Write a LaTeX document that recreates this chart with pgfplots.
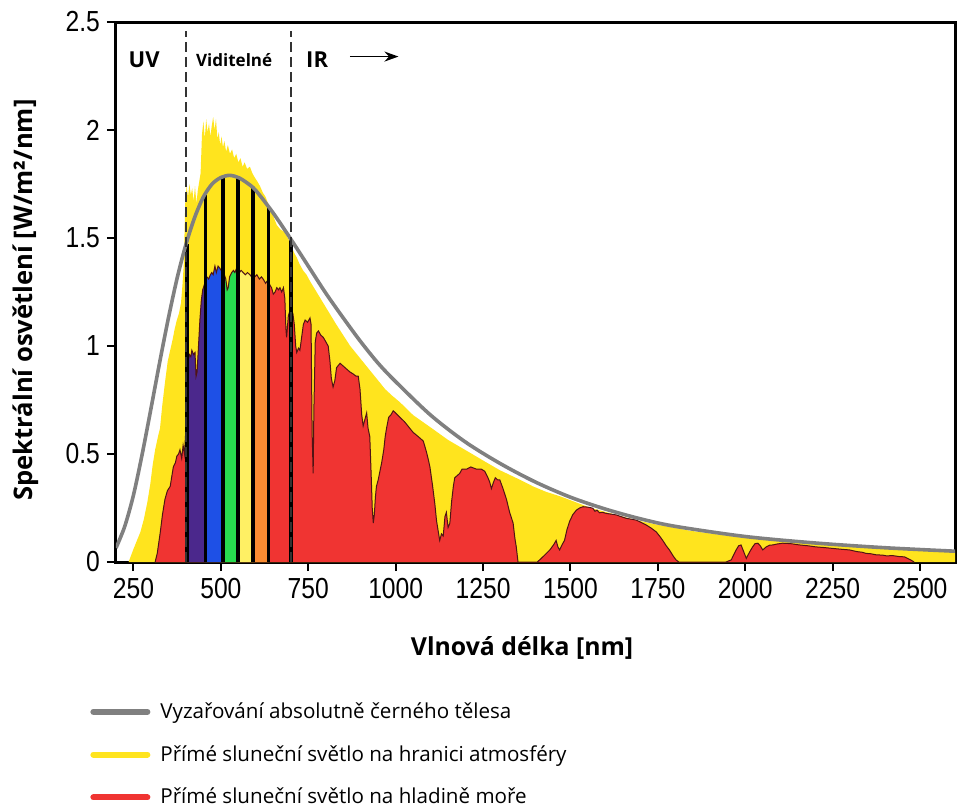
\documentclass[border=0pt]{standalone}
\usepackage{fontspec}
\setmainfont{Liberation Sans}
\newfontfamily\ticknarrow{Liberation Sans}[FakeStretch=0.85]
\newfontfamily\osans{Open Sans}
\usepackage{pgfplots}
\pgfplotsset{compat=1.18}
\usepackage{pgfplotstable}
\usetikzlibrary{arrows.meta}

\definecolor{myyellow}{RGB}{255,228,30}
\definecolor{myred}{RGB}{240,52,50}
\definecolor{redline}{RGB}{80,20,20}
\definecolor{mygray}{RGB}{128,128,128}
\definecolor{myviolet}{RGB}{75,40,140}
\definecolor{myblue}{RGB}{30,80,230}
\definecolor{mygreen}{RGB}{40,220,80}
\definecolor{lightyel}{RGB}{255,240,100}
\definecolor{myorange}{RGB}{250,140,50}

% black body curve (5250 C)
\pgfplotstableread{
nm val
200 0.065
225 0.165
250 0.31
275 0.50
300 0.71
325 0.925
350 1.13
375 1.315
400 1.47
425 1.595
450 1.69
475 1.75
500 1.78
525 1.79
550 1.78
575 1.755
600 1.72
650 1.615
700 1.495
750 1.37
800 1.245
850 1.13
900 1.02
950 0.92
1000 0.835
1100 0.68
1200 0.555
1300 0.455
1400 0.37
1500 0.30
1600 0.245
1700 0.20
1800 0.165
2000 0.118
2200 0.088
2400 0.066
2600 0.05
}\bbdata

% top of atmosphere
\pgfplotstableread{
nm val
236 0
250 0.06
260 0.10
270 0.14
280 0.20
290 0.28
298 0.36
305 0.45
312 0.52
320 0.58
326 0.62
332 0.72
340 0.83
348 0.93
355 0.98
362 1.03
368 1.08
374 1.12
380 1.15
386 1.20
390 1.28
394 1.38
398 1.66
402 1.74
406 1.69
410 1.75
414 1.70
418 1.73
422 1.67
426 1.74
430 1.66
434 1.72
438 1.76
442 1.80
446 1.98
450 2.04
454 1.96
458 2.05
462 1.99
466 2.03
470 1.97
474 2.02
478 2.06
482 2.00
486 2.05
490 1.96
494 1.99
498 1.93
502 1.97
506 1.92
510 1.95
515 1.90
520 1.93
526 1.89
532 1.91
538 1.87
544 1.89
550 1.85
556 1.87
562 1.83
568 1.85
575 1.82
583 1.83
590 1.80
597 1.78
605 1.76
612 1.74
620 1.71
628 1.69
635 1.66
641 1.63
650 1.60
660 1.56
670 1.54
680 1.53
688 1.51
695 1.49
702 1.46
710 1.43
717 1.41
725 1.38
735 1.35
745 1.33
755 1.30
770 1.26
785 1.22
800 1.18
815 1.14
830 1.10
850 1.05
870 1.00
885 0.97
900 0.94
920 0.90
945 0.85
970 0.80
990 0.77
1012 0.74
1050 0.68
1107 0.615
1150 0.565
1203 0.515
1250 0.47
1298 0.425
1350 0.385
1393 0.35
1430 0.325
1469 0.305
1510 0.28
1555 0.252
1600 0.232
1650 0.21
1698 0.19
1750 0.172
1800 0.158
1841 0.145
1900 0.132
1984 0.114
2050 0.103
2100 0.096
2200 0.085
2300 0.075
2400 0.065
2500 0.057
2600 0.049
}\topdata

% sea level
\pgfplotstableread{
nm val
312 0
318 0.04
326 0.13
333 0.22
340 0.29
347 0.33
355 0.35
360 0.40
364 0.44
370 0.46
374 0.49
379 0.50
383 0.52
388 0.48
392 0.54
396 0.50
400 0.62
402 0.88
406 0.93
410 0.96
414 0.95
417 0.98
422 0.96
426 0.97
429 0.86
432 0.88
436 1.00
440 1.12
444 1.21
448 1.26
452 1.28
456 1.30
460 1.32
465 1.31
470 1.33
474 1.34
478 1.33
483 1.37
487 1.34
492 1.37
497 1.36
501 1.35
505 1.34
510 1.33
514 1.31
518 1.26
521 1.27
525 1.32
531 1.34
536 1.35
540 1.34
545 1.36
548 1.36
553 1.34
558 1.35
564 1.34
570 1.33
576 1.34
583 1.33
588 1.32
592 1.33
597 1.32
603 1.33
610 1.31
616 1.32
621 1.31
628 1.29
632 1.30
636 1.30
641 1.28
645 1.27
650 1.24
655 1.25
660 1.27
665 1.26
669 1.27
674 1.25
679 1.27
683 1.22
686 1.08
688 1.04
691 1.10
693 1.14
697 1.16
700 1.17
702 1.17
706 1.15
710 1.10
714 1.00
717 0.97
722 0.99
726 0.98
731 1.04
736 1.10
741 1.12
748 1.11
755 1.13
758 1.10
761 0.60
764 0.41
766 0.70
770 1.02
774 1.06
779 1.07
786 1.05
793 1.04
800 1.02
807 1.00
812 0.93
816 0.85
821 0.81
826 0.84
831 0.90
836 0.91
841 0.92
848 0.91
855 0.90
862 0.89
869 0.88
879 0.87
887 0.86
893 0.86
898 0.80
903 0.68
907 0.63
912 0.66
917 0.69
921 0.62
926 0.58
930 0.40
933 0.25
936 0.18
939 0.22
942 0.30
945 0.35
950 0.38
955 0.42
960 0.46
966 0.52
970 0.58
974 0.62
980 0.67
986 0.68
993 0.70
1000 0.69
1012 0.67
1025 0.65
1040 0.62
1050 0.60
1065 0.58
1079 0.56
1088 0.51
1094 0.47
1098 0.44
1105 0.36
1112 0.27
1117 0.19
1122 0.14
1126 0.10
1131 0.13
1136 0.12
1141 0.21
1145 0.23
1150 0.16
1155 0.18
1160 0.28
1165 0.35
1169 0.39
1176 0.40
1183 0.41
1190 0.43
1203 0.43
1215 0.44
1231 0.43
1245 0.43
1255 0.42
1264 0.39
1269 0.37
1274 0.34
1280 0.37
1285 0.39
1292 0.38
1298 0.38
1307 0.34
1317 0.29
1326 0.23
1336 0.18
1341 0.11
1345 0.07
1350 0
1405 0
1412 0.01
1425 0.03
1441 0.056
1452 0.08
1459 0.10
1464 0.07
1469 0.056
1476 0.08
1483 0.10
1490 0.15
1498 0.19
1507 0.22
1517 0.24
1526 0.25
1536 0.256
1550 0.254
1564 0.249
1570 0.235
1576 0.24
1583 0.228
1592 0.23
1602 0.225
1615 0.222
1631 0.218
1645 0.21
1660 0.202
1675 0.198
1688 0.194
1700 0.185
1717 0.171
1730 0.158
1745 0.14
1755 0.12
1764 0.10
1774 0.075
1783 0.056
1795 0.025
1802 0.01
1810 0
1945 0
1960 0.01
1974 0.056
1981 0.075
1988 0.079
1995 0.05
2003 0.017
2012 0.045
2021 0.07
2028 0.085
2036 0.087
2043 0.075
2050 0.056
2060 0.07
2070 0.078
2079 0.079
2090 0.083
2107 0.087
2130 0.085
2155 0.079
2180 0.075
2202 0.07
2225 0.067
2250 0.063
2275 0.059
2298 0.056
2320 0.048
2335 0.045
2345 0.040
2360 0.038
2375 0.033
2393 0.032
2405 0.028
2420 0.030
2441 0.025
2455 0.024
2464 0.017
2475 0.008
2483 0
}\seadata

\begin{document}
\begin{tikzpicture}
\begin{axis}[
  name=ax,
  scale only axis,
  width=419.5pt, height=270pt,
  xmin=200, xmax=2600, ymin=0, ymax=2.5,
  axis line style={line width=1.5pt},
  xtick={250,500,750,1000,1250,1500,1750,2000,2250,2500},
  ytick={0,0.5,1,1.5,2,2.5},
  tick align=outside,
  major tick length=4.5pt,
  every tick/.style={black, line width=1pt},
  xtick pos=bottom, ytick pos=left,
  /pgf/number format/assume math mode=true,
  /pgf/number format/1000 sep={},
  tick label style={font=\ticknarrow\fontsize{14.5}{15}\selectfont},
  xlabel={Vlnová délka [nm]},
  ylabel={Spektrální osvětlení [W/m²/nm]},
  xlabel style={at={(axis description cs:0.484,-0.159)}, anchor=center,
    font=\osans\bfseries\fontsize{12.4}{14}\selectfont},
  ylabel style={at={(axis description cs:-0.108,0.485)}, anchor=center,
    font=\osans\bfseries\fontsize{12.8}{14}\selectfont},
  legend style={at={(axis description cs:-0.031,-0.252)}, anchor=north west,
    draw=none, fill=none, inner sep=0pt, row sep=8pt,
    font=\osans\fontsize{10.3}{12}\selectfont},
  legend cell align=left,
  legend image code/.code={\draw[#1] (0pt,0pt) -- (27pt,0pt);},
]
% areas
\addplot[fill=myyellow, draw=none, forget plot] table[x=nm, y=val] {\topdata} \closedcycle;
\addplot[fill=myred, draw=none, forget plot] table[x=nm, y=val] {\seadata} \closedcycle;
% visible colour bands under the sea-level curve
\addplot[fill=myviolet, draw=none, forget plot, restrict x to domain=402:456] table[x=nm, y=val] {\seadata} \closedcycle;
\addplot[fill=myblue, draw=none, forget plot, restrict x to domain=456:505] table[x=nm, y=val] {\seadata} \closedcycle;
\addplot[fill=mygreen, draw=none, forget plot, restrict x to domain=505:548] table[x=nm, y=val] {\seadata} \closedcycle;
\addplot[fill=lightyel, draw=none, forget plot, restrict x to domain=548:592] table[x=nm, y=val] {\seadata} \closedcycle;
\addplot[fill=myorange, draw=none, forget plot, restrict x to domain=592:636] table[x=nm, y=val] {\seadata} \closedcycle;
\addplot[draw=redline, line width=0.5pt, forget plot] table[x=nm, y=val] {\seadata};
% band separators
\addplot[ycomb, black, line width=1.9pt, forget plot] coordinates {
  (402,1.47) (456,1.70) (505,1.78) (548,1.78) (592,1.73) (636,1.64) (700,1.495)};
% black body
\addplot[mygray, line width=1.8pt, smooth, forget plot] table[x=nm, y=val] {\bbdata};
% UV / visible / IR limits
\addplot[black!80, line width=0.9pt, dash pattern=on 5pt off 2.5pt, forget plot] coordinates {(400,0) (400,2.46)};
\addplot[black!80, line width=0.9pt, dash pattern=on 5pt off 2.5pt, forget plot] coordinates {(700,0) (700,2.46)};

\node[anchor=west, font=\osans\bfseries\fontsize{11}{12}\selectfont] at (axis cs:216,2.325) {UV};
\node[font=\osans\bfseries\fontsize{8.5}{10}\selectfont] at (axis cs:538,2.325) {Viditelné};
\node[anchor=west, font=\osans\bfseries\fontsize{11}{12}\selectfont] at (axis cs:724,2.325) {IR};
\draw[-{Stealth[length=7pt,width=5pt]}, line width=0.9pt] (axis cs:869,2.34) -- (axis cs:1008,2.34);

\addlegendimage{mygray, line width=3pt, line cap=round}
\addlegendentry{\hspace{3pt}Vyzařování absolutně černého tělesa}
\addlegendimage{myyellow, line width=3pt, line cap=round}
\addlegendentry{\hspace{3pt}Přímé sluneční světlo na hranici atmosféry}
\addlegendimage{myred, line width=3pt, line cap=round}
\addlegendentry{\hspace{3pt}Přímé sluneční světlo na hladině moře}
\end{axis}
\pgfresetboundingbox
\path[use as bounding box] ([shift={(-58pt,-123.5pt)}]ax.south west) rectangle ([shift={(1.5pt,11pt)}]ax.north east);
\end{tikzpicture}
\end{document}
